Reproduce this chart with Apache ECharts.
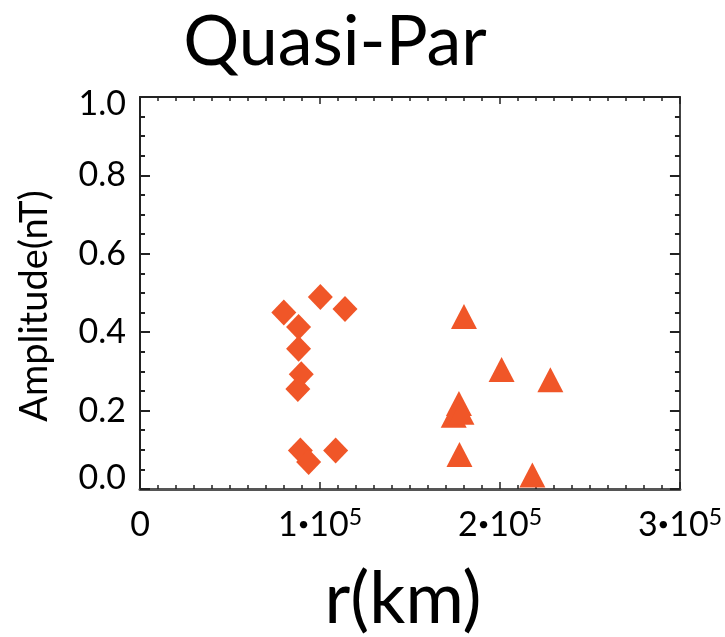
<!DOCTYPE html>
<html>
<head>
<meta charset="utf-8">
<script src="https://cdn.jsdelivr.net/npm/echarts@6/dist/echarts.min.js"></script>
<style>
  html, body { margin: 0; padding: 0; background: #fff; }
  #chart { width: 725px; height: 637px; }
</style>
</head>
<body>
<div id="chart"></div>
<script>
// Quasi-parallel events: wave amplitude versus radial distance
const diamondR   = [79900, 100200, 113900, 88100, 88100, 89600, 87700, 89100, 93700, 108700];
const diamondAmp = [0.450, 0.490, 0.459, 0.413, 0.358, 0.293, 0.255, 0.098, 0.069, 0.098];

const triangleR   = [180000, 200900, 228000, 174300, 177200, 178600, 177500, 218000];
const triangleAmp = [0.440, 0.305, 0.279, 0.188, 0.218, 0.196, 0.088, 0.036];

const xTickMantissa = ['0', '1', '2', '3'];   // multiples of 10^5 km
const yTickLabels   = ['0.0', '0.2', '0.4', '0.6', '0.8', '1.0'];

const titleText = 'Quasi-Par';
const xName = 'r(km)';
const yName = 'Amplitude(nT)';

const markColor = '#F05628';
const FONT = 'Lato, "Open Sans", sans-serif';

const pairs = (xs, ys) => xs.map((x, i) => [x, ys[i]]);

const chart = echarts.init(document.getElementById('chart'), null, { renderer: 'canvas' });

const frameLine = (color, width) => ({ show: true, onZero: false, lineStyle: { color, width } });

chart.setOption({
  animation: false,
  backgroundColor: '#ffffff',
  grid: { left: 140, right: 42, top: 97, bottom: 148, containLabel: false },
  graphic: [
    { type: 'text', x: 335, y: 42,
      style: { text: titleText, font: '400 70px ' + FONT, fill: '#000',
               textAlign: 'center', textVerticalAlign: 'middle' } },
    { type: 'text', x: 403, y: 600,
      style: { text: xName, font: '400 71px ' + FONT, fill: '#000',
               textAlign: 'center', textVerticalAlign: 'middle' } },
    { type: 'text', x: 35, y: 306, rotation: Math.PI / 2,
      style: { text: yName, font: '400 38px ' + FONT, fill: '#000',
               textAlign: 'center', textVerticalAlign: 'middle' } }
  ],
  xAxis: [
    {
      type: 'value', position: 'bottom', min: 0, max: 300000, interval: 100000,
      axisLine: frameLine('#555', 3),
      axisTick: { show: true, inside: true, length: 7, lineStyle: { color: '#222', width: 1.5 } },
      minorTick: { show: true, splitNumber: 10, length: 4, lineStyle: { color: '#222', width: 1.5 } },
      splitLine: { show: false },
      axisLabel: {
        margin: 17,
        formatter: v => {
          const m = xTickMantissa[Math.round(v / 100000)];
          return m === '0' ? '{n|0}' : '{n|' + m + '}{d|\u2022}{n|10}{s|5}';
        },
        rich: {
          n: { fontFamily: FONT, fontSize: 34, color: '#000', lineHeight: 38 },
          d: { fontFamily: FONT, fontSize: 20, color: '#000', lineHeight: 38 },
          s: { fontFamily: FONT, fontSize: 23, color: '#000', lineHeight: 20, verticalAlign: 'top' }
        }
      }
    },
    {
      type: 'value', position: 'top', min: 0, max: 300000, interval: 100000,
      axisLine: frameLine('#222', 2),
      axisTick: { show: true, inside: true, length: 7, lineStyle: { color: '#222', width: 1.5 } },
      minorTick: { show: true, splitNumber: 10, length: 4, lineStyle: { color: '#222', width: 1.5 } },
      splitLine: { show: false },
      axisLabel: { show: false }
    }
  ],
  yAxis: [
    {
      type: 'value', position: 'left', min: 0, max: 1, interval: 0.2,
      axisLine: frameLine('#222', 2),
      axisTick: { show: true, inside: true, length: 10, lineStyle: { color: '#222', width: 2 } },
      minorTick: { show: true, splitNumber: 4, length: 5, lineStyle: { color: '#222', width: 2 } },
      splitLine: { show: false },
      axisLabel: {
        margin: 14,
        formatter: v => {
          const i = Math.round(v / 0.2);
          const t = yTickLabels[i];
          if (i === 0) return '{lo|' + t + '}';
          if (i === yTickLabels.length - 1) return '{hi|' + t + '}';
          return '{m|' + t + '}';
        },
        rich: {
          m:  { fontFamily: FONT, fontSize: 34, color: '#000' },
          lo: { fontFamily: FONT, fontSize: 34, color: '#000', padding: [0, 0, 22, 0] },
          hi: { fontFamily: FONT, fontSize: 34, color: '#000', padding: [14, 0, 0, 0] }
        }
      }
    },
    {
      type: 'value', position: 'right', min: 0, max: 1, interval: 0.2,
      axisLine: frameLine('#444', 2),
      axisTick: { show: true, inside: true, length: 10, lineStyle: { color: '#222', width: 2 } },
      minorTick: { show: true, splitNumber: 4, length: 5, lineStyle: { color: '#222', width: 2 } },
      splitLine: { show: false },
      axisLabel: { show: false }
    }
  ],
  series: [
    {
      type: 'scatter', xAxisIndex: 0, yAxisIndex: 0,
      symbol: 'diamond', symbolSize: [25, 26],
      itemStyle: { color: markColor, opacity: 1 },
      data: pairs(diamondR, diamondAmp), clip: false
    },
    {
      type: 'scatter', xAxisIndex: 0, yAxisIndex: 0,
      symbol: 'triangle', symbolSize: [26, 25],
      itemStyle: { color: markColor, opacity: 1 },
      data: pairs(triangleR, triangleAmp), clip: false
    }
  ]
});
</script>
</body>
</html>
